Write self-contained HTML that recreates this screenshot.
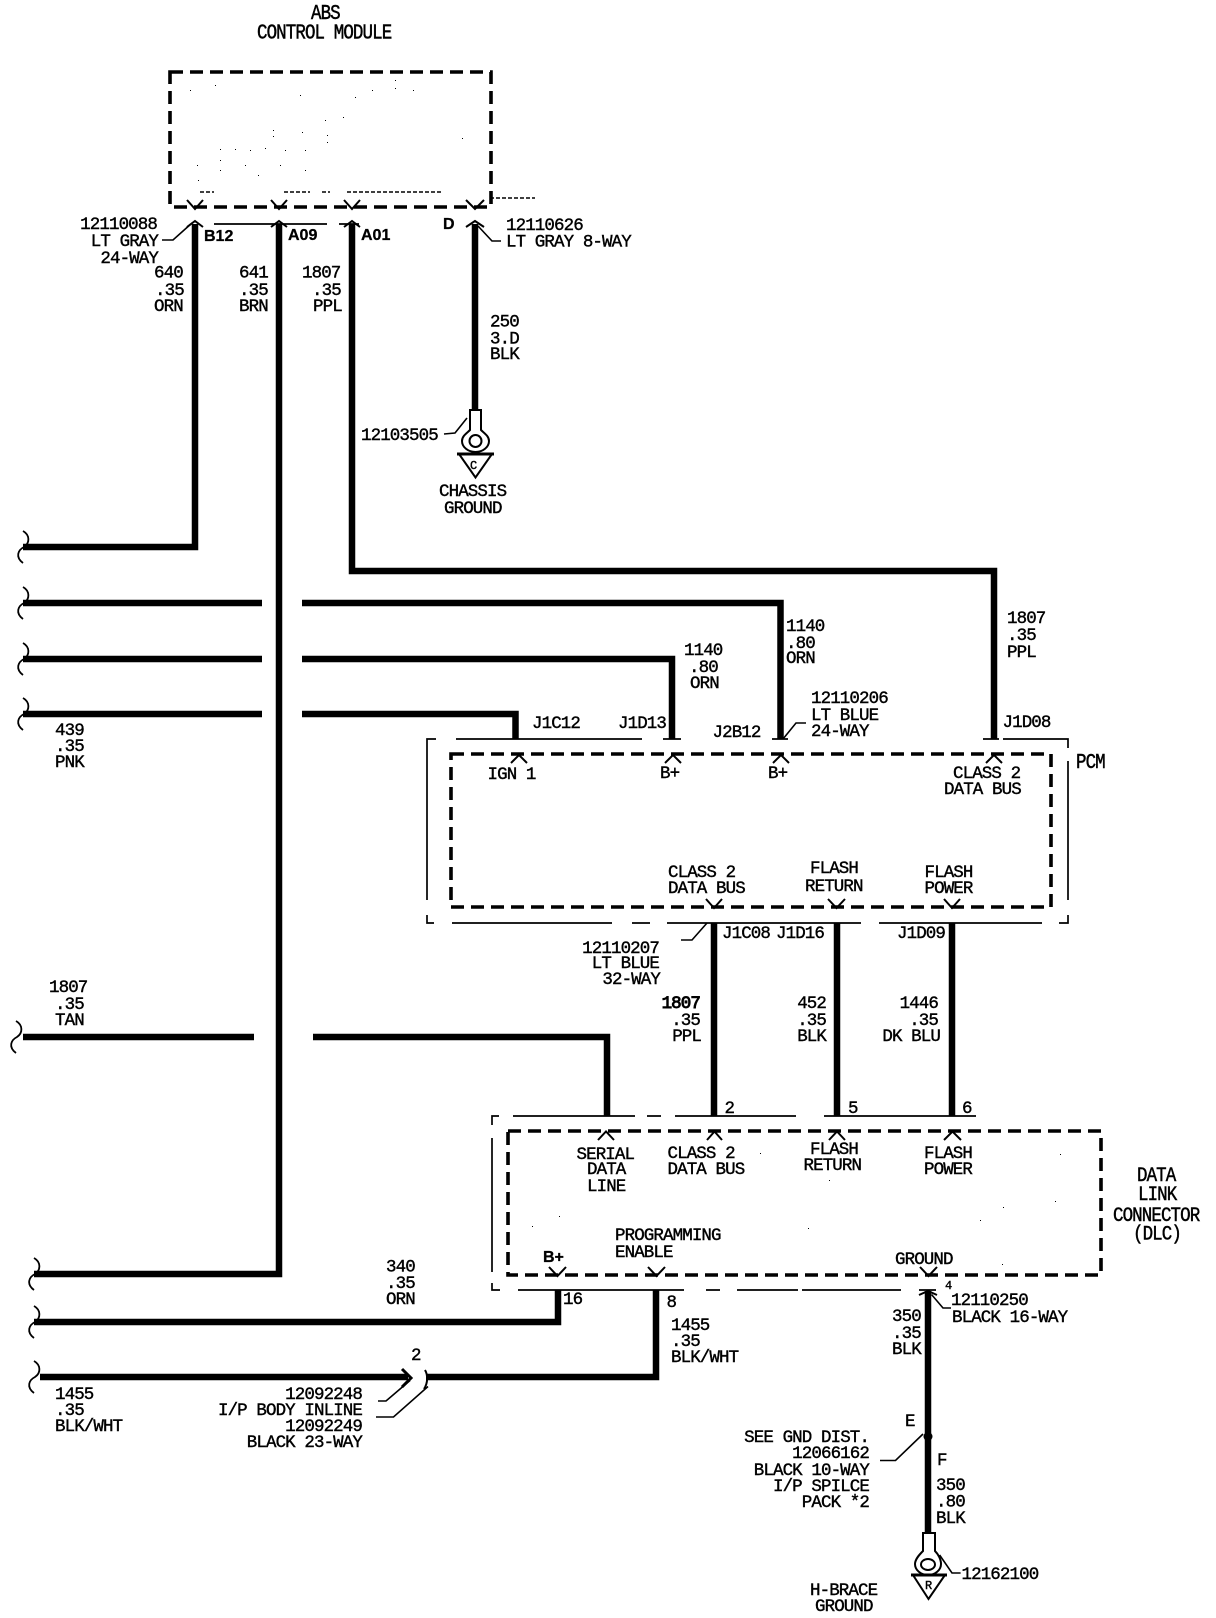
<!DOCTYPE html>
<html><head><meta charset="utf-8"><title>ABS wiring diagram</title>
<style>
html,body{margin:0;padding:0;background:#fff}
svg{display:block}
text{font-family:"Liberation Mono",monospace;font-size:17.5px;letter-spacing:-.9px;fill:#000;stroke:#000;stroke-width:.4}
.b{font-family:"Liberation Sans",sans-serif;font-size:16px;letter-spacing:0;font-weight:bold;stroke:#000;stroke-width:.3}
.e{text-anchor:end}
.s{font-size:12px;letter-spacing:0}
.w{stroke:#000;stroke-width:6.5;fill:none;stroke-linejoin:miter}
.t{stroke:#000;stroke-width:1.6;fill:none}
.o{stroke:#000;stroke-width:1.7;fill:none}
.d{stroke:#000;stroke-width:3.6;fill:none;stroke-dasharray:13 7}
.p{stroke:#000;stroke-width:2;fill:none}
</style></head><body>
<svg width="1216" height="1618" viewBox="0 0 1216 1618" xmlns="http://www.w3.org/2000/svg">
<rect width="1216" height="1618" fill="#fff"/>
<defs>
<path id="q" d="M8 -16 C15 -12 15 -4 9 0 C3 3 0 10 8 16" fill="none" stroke="#000" stroke-width="1.8"/>
</defs>

<!-- dashed module boxes -->
<rect class="d" x="170" y="72" width="321" height="135"/>
<rect class="d" x="451" y="754" width="600" height="153"/>
<rect class="d" x="508" y="1131" width="593" height="144"/>

<!-- ABS noise -->
<path class="t" stroke-dasharray="4 2" d="M200 192H214M284 192H310M322 192H330M347 192H441M490 198H535"/>
<g fill="#000">
<rect x="190" y="90" width="1" height="1"/><rect x="215" y="85" width="1" height="1"/><rect x="300" y="95" width="1" height="1"/><rect x="355" y="97" width="1" height="1"/><rect x="372" y="90" width="1" height="1"/><rect x="395" y="80" width="1" height="1"/><rect x="395" y="88" width="1" height="1"/><rect x="413" y="90" width="1" height="1"/><rect x="325" y="120" width="1" height="1"/><rect x="343" y="117" width="1" height="1"/><rect x="273" y="130" width="1" height="1"/><rect x="273" y="136" width="1" height="1"/><rect x="302" y="132" width="1" height="1"/><rect x="327" y="135" width="1" height="1"/><rect x="327" y="142" width="1" height="1"/><rect x="220" y="149" width="1" height="1"/><rect x="235" y="149" width="1" height="1"/><rect x="250" y="150" width="1" height="1"/><rect x="265" y="148" width="1" height="1"/><rect x="285" y="150" width="1" height="1"/><rect x="305" y="150" width="1" height="1"/><rect x="220" y="160" width="1" height="1"/><rect x="245" y="165" width="1" height="1"/><rect x="280" y="165" width="1" height="1"/><rect x="305" y="170" width="1" height="1"/><rect x="220" y="170" width="1" height="1"/><rect x="258" y="175" width="1" height="1"/><rect x="197" y="165" width="1" height="1"/><rect x="198" y="180" width="1" height="1"/><rect x="462" y="138" width="1" height="1"/>
<rect x="1060" y="1154" width="1" height="1"/><rect x="760" y="1153" width="1" height="1"/><rect x="829" y="1180" width="1" height="1"/><rect x="1003" y="1207" width="1" height="1"/><rect x="1055" y="1201" width="1" height="1"/><rect x="980" y="1220" width="1" height="1"/><rect x="1002" y="1264" width="1" height="1"/><rect x="808" y="1228" width="1" height="1"/><rect x="559" y="1216" width="1" height="1"/><rect x="532" y="1226" width="1" height="1"/>
</g>

<!-- wires -->
<path class="w" d="M195 224V547H23"/>
<path class="w" d="M279 224V1274H34"/>
<path class="w" d="M352 224V571H994V739"/>
<path class="w" d="M475 224V411"/>
<path class="w" d="M23 603H262M302 603H780.5V739"/>
<path class="w" d="M23 659H262M302 659H672V739"/>
<path class="w" d="M23 714H262M302 714H515.5V739"/>
<path class="w" d="M23 1037H254M313 1037H607V1116"/>
<path class="w" d="M714 923V1116M837 923V1116M952 923V1116"/>
<path class="w" d="M558 1290V1322H34"/>
<path class="w" d="M656 1290V1377H426"/>
<path class="w" d="M40 1377H408"/>
<path class="w" d="M928 1291V1533"/>
<circle cx="928" cy="1436.5" r="4.5" fill="#000"/>

<!-- squiggles -->
<use href="#q" x="15" y="547"/><use href="#q" x="15" y="603"/><use href="#q" x="15" y="659"/><use href="#q" x="15" y="714"/><use href="#q" x="8" y="1037"/>
<use href="#q" x="26" y="1274"/><use href="#q" x="26" y="1322"/><use href="#q" x="26" y="1377"/>

<!-- thin outer connector outlines -->
<path class="o" d="M214 224H327M339 224H359"/>
<path class="o" d="M436 739H427V900M427 915V923H434M456 739H642M663 739H681M772 739H788M983 739H999M1003 739H1068V748M1068 761V900M1068 915V923H1059M452 923H612M632 923H650M667 923H861M879 923H1042"/>
<path class="o" d="M499 1116H492V1125M492 1138V1272M492 1283V1290H500M513 1116H635M647 1116H661M675 1116H796M824 1116H976M518 1290H684M706 1290H720M737 1290H798M802 1290H901M919 1290H936"/>

<!-- pin marks -->
<g class="p">
<path d="M187 200L195 209L203 200M271 200L279 209L287 200M344 200L352 209L360 200M466 200L475 209L484 200"/>
<path d="M187 227L195 221L203 227M271 227L279 221L287 227M344 227L352 221L360 227M466 227L475 221L484 227"/>
<path d="M511 763L519 755L527 763M665 763L673 755L681 763M773 763L781 755L789 763M986 763L994 755L1002 763"/>
<path d="M706 899L714 908L722 899M828 899L836.5 908L845 899M944 899L952 908L960 899"/>
<path d="M598 1140L606 1131.5L614 1140M707 1140L714.5 1131.5L722 1140M829 1140L837 1131.5L845 1140M944 1140L952.5 1131.5L961 1140"/>
<path d="M549 1267L557.5 1276L566 1267M648 1267L656.5 1276L665 1267M920 1267L928.5 1276L937 1267"/>
<path d="M919 1295L928 1291L937 1295"/>
</g>

<!-- leaders -->
<path class="t" d="M162 240H173L192 223M478 226L492 241H501M444 434L455 433L467 418M806 723H796L783 739M681 940H692L707 923M378 1401H386L410 1380.5M376 1417H393.5L428 1386.5M931.5 1294.5L943 1308H951M880 1460.5H895.5L923 1434M939.6 1555L952 1573H960.6"/>

<!-- inline connector -->
<path d="M402 1369L411 1378L402 1387" fill="none" stroke="#000" stroke-width="3"/>
<path d="M425 1370C428 1375 428 1383 424 1389" fill="none" stroke="#000" stroke-width="2"/>

<!-- ground terminals -->
<g fill="#fff" stroke="#000" stroke-width="2">
<path d="M470 410H481V430C484 433 489 436 489 441A13.5 11 0 0 1 462 441C462 436 467 433 470 430Z"/>
<circle cx="475.5" cy="441" r="6"/>
<path d="M459 454H492L475.5 477.5Z"/>
<path d="M923 1533H935V1551C938 1554 941 1559 941 1564A13 11 0 0 1 915 1564C915 1559 920 1554 923 1551Z"/>
<ellipse cx="928" cy="1564.5" rx="7" ry="5.5"/>
<path d="M913 1575H945L928.5 1599Z"/>
</g>
<path d="M457 454H494M911 1575H947" stroke="#000" stroke-width="3" fill="none"/>
<text class="s" x="470" y="469">C</text>
<text class="s" x="925" y="1589">R</text>

<!-- ABS labels -->
<text transform="translate(311 19) scale(1 1.2)">ABS</text>
<text transform="translate(257 38.5) scale(1 1.2)">CONTROL MODULE</text>
<text class="e" x="157" y="229">12110088</text>
<text class="e" x="158" y="246">LT GRAY</text>
<text class="e" x="158" y="263">24-WAY</text>
<text class="b" x="204" y="241">B12</text>
<text class="b" x="288" y="240">A09</text>
<text class="b" x="361" y="240">A01</text>
<text class="b" x="443" y="229">D</text>
<text x="506" y="230">12110626</text>
<text x="506" y="246.5">LT GRAY 8-WAY</text>
<text x="154" y="277.5">640</text><text x="155" y="295">.35</text><text x="154" y="311">ORN</text>
<text x="239" y="277.5">641</text><text x="239" y="295">.35</text><text x="239" y="311">BRN</text>
<text x="302" y="277.5">1807</text><text x="312" y="295">.35</text><text x="313" y="311">PPL</text>
<text x="490" y="326.5">250</text><text x="490" y="343.5">3.D</text><text x="490" y="359">BLK</text>
<text x="361" y="440">12103505</text>
<text x="439" y="496">CHASSIS</text><text x="444" y="513">GROUND</text>

<!-- wire labels upper -->
<text x="786" y="631">1140</text><text x="786" y="648">.80</text><text x="786" y="663">ORN</text>
<text x="684" y="655">1140</text><text x="689" y="672">.80</text><text x="690" y="688">ORN</text>
<text x="1007" y="623">1807</text><text x="1007" y="640">.35</text><text x="1007" y="657">PPL</text>
<text x="811" y="703">12110206</text><text x="811" y="720">LT BLUE</text><text x="811" y="736">24-WAY</text>
<text x="1002.5" y="727">J1D08</text>
<text x="712.5" y="737">J2B12</text>
<text x="618" y="728">J1D13</text>
<text x="532" y="728">J1C12</text>
<text x="55" y="735">439</text><text x="55" y="751">.35</text><text x="55" y="767">PNK</text>

<!-- PCM -->
<text transform="translate(1076 768) scale(1 1.2)">PCM</text>
<text x="487.5" y="779">IGN 1</text>
<text x="660" y="778">B+</text>
<text x="768" y="778">B+</text>
<text x="953" y="778">CLASS 2</text>
<text x="944" y="794">DATA BUS</text>
<text x="668" y="877">CLASS 2</text>
<text x="668" y="893">DATA BUS</text>
<text x="810" y="873">FLASH</text>
<text x="805" y="891">RETURN</text>
<text x="924.5" y="877">FLASH</text>
<text x="924.5" y="893">POWER</text>
<text class="e" x="659" y="953">12110207</text>
<text class="e" x="659" y="968">LT BLUE</text>
<text class="e" x="660" y="984">32-WAY</text>
<text x="722" y="938">J1C08</text>
<text x="776" y="938">J1D16</text>
<text x="897" y="938">J1D09</text>
<text class="e" x="700" y="1008" style="stroke-width:.9">1807</text>
<text class="e" x="700" y="1025">.35</text>
<text class="e" x="701" y="1041">PPL</text>
<text class="e" x="826" y="1008">452</text>
<text class="e" x="826" y="1025">.35</text>
<text class="e" x="826" y="1041">BLK</text>
<text class="e" x="938" y="1008">1446</text>
<text class="e" x="938" y="1025">.35</text>
<text class="e" x="940" y="1041">DK BLU</text>
<text x="49" y="992">1807</text><text x="55" y="1009">.35</text><text x="55" y="1025">TAN</text>

<!-- DLC -->
<text x="724.5" y="1113">2</text><text x="848" y="1113">5</text><text x="962" y="1113">6</text>
<text x="576.5" y="1159">SERIAL</text>
<text x="587" y="1174">DATA</text>
<text x="587" y="1191">LINE</text>
<text x="667.5" y="1158">CLASS 2</text>
<text x="667.5" y="1174">DATA BUS</text>
<text x="810" y="1154">FLASH</text>
<text x="803.5" y="1170">RETURN</text>
<text x="924" y="1158">FLASH</text>
<text x="924" y="1174">POWER</text>
<text x="615" y="1240">PROGRAMMING</text>
<text x="615" y="1257">ENABLE</text>
<text class="b" x="543" y="1262">B+</text>
<text x="895" y="1264">GROUND</text>
<text class="s" x="945" y="1289">4</text>
<text transform="translate(1137 1181) scale(1 1.15)">DATA</text>
<text transform="translate(1138 1200) scale(1 1.15)">LINK</text>
<text transform="translate(1113 1221) scale(1 1.15)">CONNECTOR</text>
<text transform="translate(1133 1239.5) scale(1 1.15)">(DLC)</text>

<!-- lower labels -->
<text x="563" y="1304">16</text>
<text x="666.5" y="1307">8</text>
<text x="386" y="1271.5">340</text><text x="386" y="1288">.35</text><text x="386" y="1304">ORN</text>
<text x="671" y="1330">1455</text><text x="671" y="1346">.35</text><text x="671" y="1362">BLK/WHT</text>
<text x="951" y="1305">12110250</text>
<text x="952" y="1322">BLACK 16-WAY</text>
<text x="892" y="1321">350</text><text x="892" y="1338">.35</text><text x="892" y="1354">BLK</text>
<text x="411" y="1360">2</text>
<text x="55" y="1399">1455</text><text x="55" y="1415">.35</text><text x="55" y="1431">BLK/WHT</text>
<text class="e" x="362" y="1399">12092248</text>
<text class="e" x="362" y="1415">I/P BODY INLINE</text>
<text class="e" x="362" y="1431">12092249</text>
<text class="e" x="362" y="1447">BLACK 23-WAY</text>
<text x="905" y="1426">E</text>
<text x="937" y="1465">F</text>
<text class="e" x="869" y="1442">SEE GND DIST.</text>
<text class="e" x="869" y="1458">12066162</text>
<text class="e" x="869" y="1475">BLACK 10-WAY</text>
<text class="e" x="869" y="1491">I/P SPILCE</text>
<text class="e" x="869" y="1507">PACK *2</text>
<text x="936" y="1490">350</text><text x="936" y="1506.5">.80</text><text x="936" y="1523">BLK</text>
<text x="961.5" y="1579">12162100</text>
<text x="810" y="1595">H-BRACE</text>
<text x="815" y="1611">GROUND</text>
</svg>
</body></html>
